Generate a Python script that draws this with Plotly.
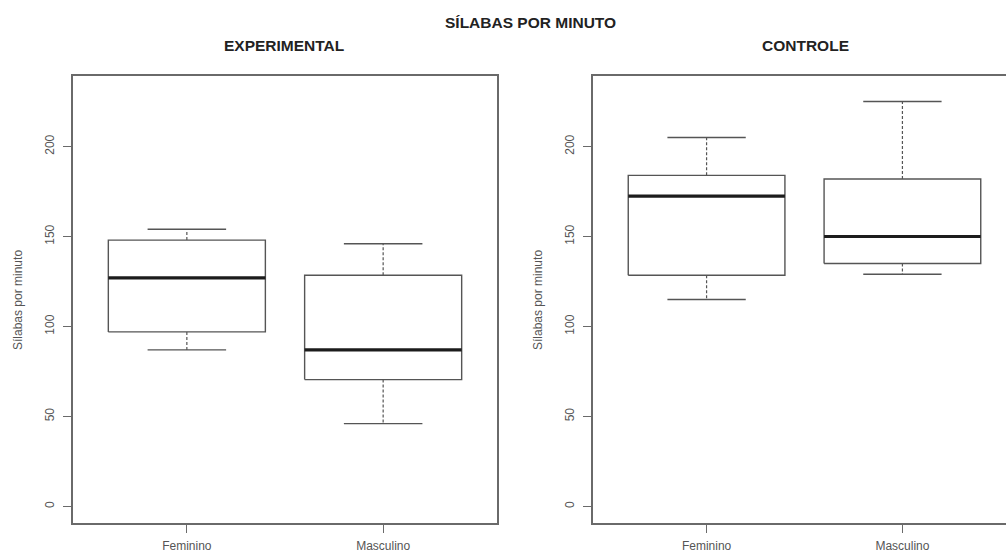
import plotly.graph_objects as go

# Categories and five-number summaries (syllables per minute)
categories = ["Feminino", "Masculino"]

exp_lower = [87, 46]
exp_q1 = [97, 70.5]
exp_median = [127, 87]
exp_q3 = [148, 128.5]
exp_upper = [154, 146]

ctl_lower = [115, 129]
ctl_q1 = [128.5, 135]
ctl_median = [172.5, 150]
ctl_q3 = [184, 182]
ctl_upper = [205, 225]

y_ticks = [0, 50, 100, 150, 200]

W, H = 1006, 555
BOX_HALF = 0.4
CAP_HALF = 0.2
FRAME = "#6a6a6a"
BOXLINE = "#555555"

fig = go.Figure()


def add_boxes(xref, yref, lower, q1, med, q3, upper):
    for i, _ in enumerate(categories):
        x = i + 1
        common = dict(xaxis=xref, yaxis=yref, mode="lines", showlegend=False,
                      hoverinfo="skip")
        # box body
        fig.add_trace(go.Scatter(
            x=[x - BOX_HALF, x + BOX_HALF, x + BOX_HALF, x - BOX_HALF, x - BOX_HALF],
            y=[q1[i], q1[i], q3[i], q3[i], q1[i]],
            line=dict(color=BOXLINE, width=1.4), **common))
        # dashed whiskers
        fig.add_trace(go.Scatter(
            x=[x, x, None, x, x],
            y=[q3[i], upper[i], None, q1[i], lower[i]],
            line=dict(color=BOXLINE, width=1.2, dash="3px,2px"), **common))
        # whisker caps
        fig.add_trace(go.Scatter(
            x=[x - CAP_HALF, x + CAP_HALF, None, x - CAP_HALF, x + CAP_HALF],
            y=[upper[i], upper[i], None, lower[i], lower[i]],
            line=dict(color=BOXLINE, width=1.4), **common))
        # median
        fig.add_trace(go.Scatter(
            x=[x - BOX_HALF, x + BOX_HALF],
            y=[med[i], med[i]],
            line=dict(color="#1c1c1c", width=3.2), **common))


add_boxes("x", "y", exp_lower, exp_q1, exp_median, exp_q3, exp_upper)
add_boxes("x2", "y2", ctl_lower, ctl_q1, ctl_median, ctl_q3, ctl_upper)

y_lo, y_hi = -9.2, 239.2
y_dom = [(H - 523) / H, (H - 76) / H]

tick_font = dict(family="Liberation Sans, Arial, sans-serif", size=12, color="#555")

xaxis_common = dict(
    tickmode="array", tickvals=[1, 2], ticktext=categories,
    showgrid=False, zeroline=False, showline=True, linecolor=FRAME, linewidth=1.6,
    ticks="outside", ticklen=8, tickcolor=FRAME, tickwidth=1.3,
    tickfont=tick_font, ticklabelstandoff=3,
)
yaxis_common = dict(
    range=[y_lo, y_hi], domain=y_dom,
    tickmode="array", tickvals=y_ticks, ticktext=[str(v) for v in y_ticks],
    tickangle=-90,
    showgrid=False, zeroline=False, showline=True, linecolor=FRAME, linewidth=1.6,
    ticks="outside", ticklen=8, tickcolor=FRAME, tickwidth=1.3,
    tickfont=tick_font, ticklabelstandoff=4,
)

fig.update_layout(
    width=W, height=H,
    margin=dict(l=0, r=0, t=0, b=0),
    plot_bgcolor="white", paper_bgcolor="white",
    xaxis=dict(domain=[73 / W, 497 / W], range=[0.42, 2.58], mirror=True,
               anchor="y", **xaxis_common),
    yaxis=dict(anchor="x", mirror=True, **yaxis_common),
    xaxis2=dict(domain=[593 / W, 1.0],
                range=[0.42, 0.42 + (W - 593) / 423 * 2.16], mirror=True,
                anchor="y2", **xaxis_common),
    yaxis2=dict(anchor="x2", mirror=False, **yaxis_common),
)

title_font = dict(family="Liberation Sans, Arial, sans-serif", size=15.5, color="#222")
label_font = dict(family="Liberation Sans, Arial, sans-serif", size=12, color="#555")

annotations = [
    dict(text="<b>SÍLABAS POR MINUTO</b>", x=530 / W, y=1 - 22 / H, font=title_font),
    dict(text="<b>EXPERIMENTAL</b>", x=284 / W, y=1 - 45 / H, font=title_font),
    dict(text="<b>CONTROLE</b>", x=805 / W, y=1 - 45 / H, font=title_font),
    dict(text="Sílabas por minuto", x=18 / W, y=1 - 300 / H, textangle=-90,
         font=label_font),
    dict(text="Sílabas por minuto", x=538 / W, y=1 - 300 / H, textangle=-90,
         font=label_font),
]
for a in annotations:
    fig.add_annotation(xref="paper", yref="paper", showarrow=False,
                       xanchor="center", yanchor="middle", **a)

fig.write_html("out.html")
